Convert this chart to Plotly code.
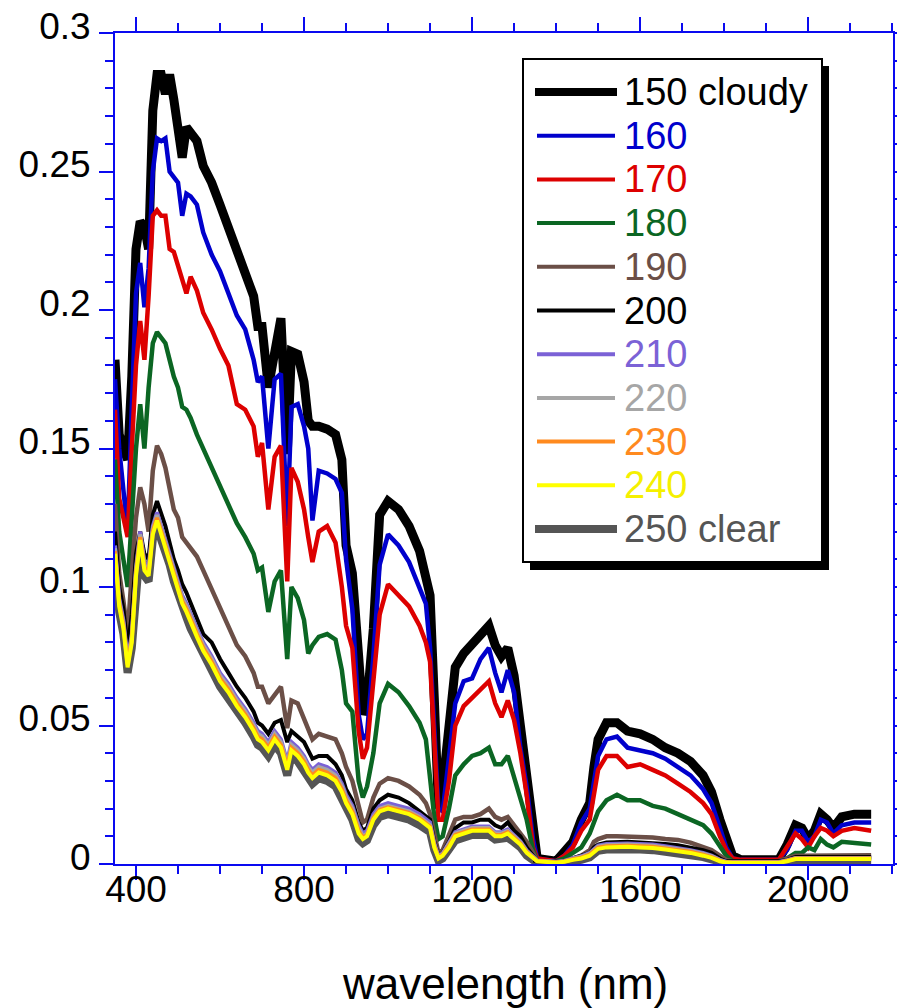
import plotly.graph_objects as go

# ---------------- data ----------------
wavelength = [
    350, 360, 370, 380, 390, 400, 410, 420, 430, 440,
    450, 460, 470, 480, 490, 500, 510, 520, 530, 545,
    560, 580, 600, 620, 640, 660, 680, 690, 700, 715,
    730, 745, 760, 770, 785, 800, 810, 820, 835, 855,
    875, 890, 900, 915, 930, 940, 950, 965, 980, 1000,
    1025, 1050, 1075, 1090, 1100, 1110, 1120, 1130, 1145, 1160,
    1180, 1200, 1220, 1240, 1255, 1270, 1285, 1300, 1315, 1330,
    1345, 1355, 1400, 1420, 1440, 1460, 1480, 1490, 1500, 1520,
    1545, 1570, 1600, 1630, 1660, 1690, 1720, 1750, 1770, 1790,
    1805, 1820, 1840, 1930, 1950, 1970, 1985, 2000, 2015, 2030,
    2045, 2060, 2080, 2110, 2150]

r150 = [
    0.182, 0.155, 0.150, 0.146, 0.176, 0.222, 0.232, 0.230, 0.222, 0.272,
    0.285, 0.285, 0.278, 0.285, 0.276, 0.266, 0.255, 0.266, 0.264, 0.261,
    0.252, 0.246, 0.238, 0.230, 0.222, 0.214, 0.205, 0.194, 0.194, 0.172,
    0.185, 0.197, 0.148, 0.185, 0.184, 0.174, 0.160, 0.158, 0.158, 0.157,
    0.155, 0.146, 0.115, 0.105, 0.075, 0.054, 0.058, 0.085, 0.126, 0.131,
    0.128, 0.122, 0.113, 0.105, 0.097, 0.060, 0.020, 0.028, 0.050, 0.071,
    0.076, 0.079, 0.083, 0.086, 0.079, 0.075, 0.078, 0.068, 0.050, 0.032,
    0.012, 0.002, 0.001, 0.005, 0.008, 0.016, 0.022, 0.035, 0.045, 0.051,
    0.051, 0.048, 0.047, 0.045, 0.042, 0.040, 0.037, 0.032, 0.026, 0.016,
    0.009, 0.003, 0.0015, 0.0015, 0.007, 0.014, 0.013, 0.009, 0.012, 0.018,
    0.016, 0.013, 0.017, 0.018, 0.018]

r160 = [
    0.175, 0.150, 0.135, 0.120, 0.165, 0.206, 0.217, 0.201, 0.215, 0.250,
    0.262, 0.261, 0.262, 0.250, 0.248, 0.246, 0.234, 0.242, 0.241, 0.238,
    0.228, 0.220, 0.214, 0.206, 0.198, 0.193, 0.182, 0.174, 0.176, 0.150,
    0.175, 0.177, 0.122, 0.165, 0.166, 0.158, 0.150, 0.124, 0.142, 0.141,
    0.139, 0.134, 0.110, 0.092, 0.054, 0.045, 0.047, 0.075, 0.108, 0.119,
    0.115, 0.109, 0.100, 0.094, 0.078, 0.050, 0.020, 0.019, 0.038, 0.058,
    0.066, 0.067, 0.074, 0.078, 0.069, 0.062, 0.070, 0.062, 0.042, 0.028,
    0.009, 0.002, 0.001, 0.003, 0.007, 0.015, 0.020, 0.030, 0.039, 0.045,
    0.046, 0.042, 0.041, 0.040, 0.038, 0.035, 0.032, 0.027, 0.022, 0.013,
    0.006, 0.002, 0.0015, 0.0015, 0.005, 0.012, 0.012, 0.008, 0.010, 0.016,
    0.015, 0.011, 0.014, 0.015, 0.015]

r170 = [
    0.164, 0.132, 0.125, 0.118, 0.150, 0.180, 0.196, 0.182, 0.205, 0.234,
    0.236, 0.234, 0.234, 0.222, 0.221, 0.216, 0.211, 0.206, 0.212, 0.207,
    0.199, 0.193, 0.186, 0.180, 0.166, 0.164, 0.158, 0.147, 0.152, 0.128,
    0.147, 0.151, 0.102, 0.143, 0.138, 0.128, 0.118, 0.109, 0.120, 0.122,
    0.116, 0.100, 0.086, 0.078, 0.048, 0.038, 0.042, 0.065, 0.090, 0.101,
    0.097, 0.093, 0.086, 0.080, 0.073, 0.045, 0.016, 0.016, 0.030, 0.050,
    0.057, 0.060, 0.063, 0.066, 0.058, 0.053, 0.059, 0.052, 0.040, 0.025,
    0.006, 0.002, 0.001, 0.003, 0.006, 0.012, 0.016, 0.026, 0.034, 0.039,
    0.039, 0.035, 0.036, 0.034, 0.032, 0.029, 0.026, 0.022, 0.018, 0.010,
    0.005, 0.002, 0.0015, 0.0015, 0.006, 0.011, 0.009, 0.006, 0.010, 0.013,
    0.012, 0.010, 0.012, 0.013, 0.012]

r180 = [
    0.146, 0.120, 0.110, 0.100, 0.125, 0.150, 0.166, 0.150, 0.172, 0.188,
    0.192, 0.190, 0.188, 0.182, 0.176, 0.172, 0.165, 0.164, 0.161, 0.155,
    0.150, 0.143, 0.137, 0.130, 0.123, 0.118, 0.112, 0.106, 0.107, 0.091,
    0.102, 0.106, 0.074, 0.100, 0.096, 0.088, 0.076, 0.079, 0.082, 0.083,
    0.081, 0.070, 0.058, 0.055, 0.030, 0.024, 0.028, 0.040, 0.058, 0.065,
    0.062, 0.057, 0.051, 0.045, 0.030, 0.017, 0.009, 0.010, 0.020, 0.032,
    0.036, 0.039, 0.040, 0.042, 0.036, 0.036, 0.039, 0.031, 0.024, 0.016,
    0.005, 0.001, 0.001, 0.002, 0.004, 0.006, 0.011, 0.015, 0.019, 0.023,
    0.025, 0.023, 0.023, 0.021, 0.020, 0.018, 0.016, 0.014, 0.011, 0.006,
    0.003, 0.001, 0.001, 0.001, 0.002, 0.004, 0.004, 0.006, 0.005, 0.009,
    0.007, 0.006, 0.008, 0.0075, 0.007]

r190 = [
    0.130, 0.105, 0.095, 0.083, 0.105, 0.125, 0.136, 0.130, 0.120, 0.142,
    0.151, 0.148, 0.143, 0.136, 0.128, 0.125, 0.118, 0.116, 0.114, 0.111,
    0.106, 0.099, 0.092, 0.086, 0.079, 0.075, 0.069, 0.064, 0.064, 0.058,
    0.061, 0.064, 0.049, 0.059, 0.058, 0.052, 0.048, 0.045, 0.047, 0.046,
    0.045, 0.040, 0.035, 0.030, 0.020, 0.015, 0.016, 0.024, 0.029, 0.031,
    0.030, 0.028, 0.025, 0.022, 0.018, 0.010, 0.004, 0.005, 0.011, 0.016,
    0.017, 0.017, 0.018, 0.020, 0.017, 0.016, 0.017, 0.014, 0.011, 0.008,
    0.004, 0.001, 0.001, 0.001, 0.002, 0.003, 0.005, 0.008, 0.009, 0.010,
    0.010, 0.010, 0.0098, 0.0096, 0.009, 0.0087, 0.0077, 0.0062, 0.005, 0.003,
    0.0015, 0.001, 0.001, 0.001, 0.002, 0.003, 0.003, 0.003, 0.003, 0.0032,
    0.0032, 0.0032, 0.0032, 0.0032, 0.0032]

r200 = [
    0.120, 0.100, 0.092, 0.078, 0.090, 0.112, 0.120, 0.112, 0.110, 0.126,
    0.131, 0.127, 0.122, 0.116, 0.110, 0.106, 0.101, 0.098, 0.094, 0.088,
    0.083, 0.080, 0.074, 0.069, 0.064, 0.060, 0.055, 0.051, 0.050, 0.047,
    0.051, 0.052, 0.044, 0.048, 0.046, 0.044, 0.041, 0.038, 0.039, 0.039,
    0.036, 0.032, 0.027, 0.023, 0.015, 0.012, 0.013, 0.020, 0.023, 0.025,
    0.024, 0.022, 0.019, 0.017, 0.016, 0.008, 0.003, 0.004, 0.008, 0.013,
    0.015, 0.015, 0.016, 0.016, 0.014, 0.013, 0.015, 0.012, 0.010, 0.006,
    0.003, 0.001, 0.001, 0.001, 0.002, 0.003, 0.004, 0.006, 0.007, 0.0078,
    0.008, 0.008, 0.0078, 0.0076, 0.0072, 0.0068, 0.006, 0.005, 0.004, 0.002,
    0.001, 0.001, 0.001, 0.001, 0.0015, 0.0025, 0.0025, 0.0025, 0.0025, 0.0025,
    0.0025, 0.0025, 0.0025, 0.0025, 0.0025]

r210 = [
    0.115, 0.096, 0.088, 0.074, 0.083, 0.107, 0.120, 0.109, 0.107, 0.122,
    0.127, 0.122, 0.118, 0.113, 0.107, 0.102, 0.097, 0.094, 0.090, 0.085,
    0.080, 0.075, 0.069, 0.065, 0.060, 0.056, 0.051, 0.048, 0.047, 0.044,
    0.048, 0.045, 0.037, 0.044, 0.042, 0.039, 0.036, 0.034, 0.036, 0.035,
    0.033, 0.029, 0.025, 0.021, 0.014, 0.011, 0.012, 0.018, 0.021, 0.022,
    0.021, 0.020, 0.018, 0.016, 0.015, 0.0075, 0.0029, 0.0039, 0.0075, 0.0115,
    0.0125, 0.0135, 0.0135, 0.0135, 0.0115, 0.0115, 0.0125, 0.0105, 0.0082, 0.0049,
    0.0026, 0.0013, 0.0008, 0.0011, 0.0021, 0.0028, 0.004, 0.0055, 0.0066, 0.0072,
    0.0074, 0.0074, 0.0072, 0.007, 0.0064, 0.0058, 0.005, 0.004, 0.003, 0.0015,
    0.0008, 0.0007, 0.0007, 0.0007, 0.0014, 0.0022, 0.0022, 0.0022, 0.0022, 0.0022,
    0.0022, 0.0022, 0.0022, 0.0022, 0.0022]

r220 = [
    0.114, 0.095, 0.087, 0.073, 0.082, 0.106, 0.119, 0.108, 0.106, 0.121,
    0.126, 0.121, 0.117, 0.112, 0.106, 0.101, 0.096, 0.093, 0.089, 0.084,
    0.079, 0.074, 0.068, 0.064, 0.059, 0.055, 0.050, 0.047, 0.046, 0.043,
    0.047, 0.044, 0.036, 0.043, 0.041, 0.038, 0.035, 0.033, 0.035, 0.034,
    0.032, 0.028, 0.024, 0.020, 0.013, 0.010, 0.011, 0.017, 0.020, 0.021,
    0.020, 0.019, 0.017, 0.015, 0.014, 0.007, 0.0026, 0.0036, 0.007, 0.011,
    0.012, 0.013, 0.013, 0.013, 0.011, 0.011, 0.012, 0.010, 0.0078, 0.0046,
    0.0024, 0.0012, 0.0007, 0.001, 0.0019, 0.0026, 0.0037, 0.0052, 0.0063, 0.0068,
    0.007, 0.007, 0.0068, 0.0066, 0.006, 0.0055, 0.0047, 0.0037, 0.0028, 0.0014,
    0.0007, 0.0006, 0.0006, 0.0006, 0.0013, 0.0021, 0.0021, 0.0021, 0.0021, 0.0021,
    0.0021, 0.0021, 0.0021, 0.0021, 0.0021]

r230 = [
    0.113, 0.094, 0.086, 0.072, 0.081, 0.105, 0.118, 0.107, 0.105, 0.120,
    0.125, 0.120, 0.116, 0.111, 0.105, 0.100, 0.095, 0.092, 0.088, 0.083,
    0.078, 0.073, 0.067, 0.063, 0.058, 0.054, 0.049, 0.046, 0.045, 0.042,
    0.046, 0.043, 0.035, 0.042, 0.040, 0.037, 0.034, 0.032, 0.034, 0.033,
    0.031, 0.027, 0.023, 0.019, 0.012, 0.0095, 0.0105, 0.0165, 0.0195, 0.0205,
    0.0195, 0.0185, 0.0165, 0.0145, 0.0135, 0.0065, 0.0023, 0.0033, 0.0065, 0.0105,
    0.0115, 0.0125, 0.0125, 0.0125, 0.0105, 0.0105, 0.0115, 0.0095, 0.0074, 0.0043,
    0.0022, 0.0011, 0.0006, 0.0009, 0.0017, 0.0023, 0.0034, 0.0049, 0.0059, 0.0064,
    0.0066, 0.0066, 0.0064, 0.0062, 0.0056, 0.0051, 0.0044, 0.0034, 0.0025, 0.0012,
    0.0006, 0.0005, 0.0005, 0.0005, 0.0012, 0.002, 0.002, 0.002, 0.002, 0.002,
    0.002, 0.002, 0.002, 0.002, 0.002]

r240 = [
    0.112, 0.093, 0.085, 0.071, 0.080, 0.104, 0.117, 0.106, 0.104, 0.119,
    0.124, 0.119, 0.115, 0.110, 0.104, 0.099, 0.094, 0.091, 0.087, 0.082,
    0.077, 0.072, 0.066, 0.062, 0.057, 0.053, 0.048, 0.045, 0.044, 0.041,
    0.045, 0.042, 0.034, 0.041, 0.039, 0.036, 0.033, 0.031, 0.033, 0.032,
    0.030, 0.026, 0.022, 0.018, 0.011, 0.009, 0.010, 0.016, 0.019, 0.020,
    0.019, 0.018, 0.016, 0.014, 0.013, 0.006, 0.002, 0.003, 0.006, 0.010,
    0.011, 0.012, 0.012, 0.012, 0.010, 0.010, 0.011, 0.009, 0.007, 0.004,
    0.002, 0.001, 0.0005, 0.0008, 0.0015, 0.002, 0.003, 0.0045, 0.0055, 0.006,
    0.0062, 0.0062, 0.006, 0.0058, 0.0052, 0.0047, 0.004, 0.003, 0.0022, 0.001,
    0.0005, 0.0004, 0.0004, 0.0004, 0.001, 0.0018, 0.0018, 0.0018, 0.0018, 0.0018,
    0.0018, 0.0018, 0.0018, 0.0018, 0.0018]

r250 = [
    0.110, 0.091, 0.083, 0.069, 0.078, 0.102, 0.115, 0.104, 0.102, 0.117,
    0.122, 0.117, 0.113, 0.108, 0.102, 0.097, 0.092, 0.089, 0.085, 0.080,
    0.075, 0.070, 0.064, 0.060, 0.055, 0.051, 0.046, 0.043, 0.042, 0.039,
    0.043, 0.040, 0.032, 0.039, 0.037, 0.034, 0.031, 0.029, 0.031, 0.030,
    0.028, 0.024, 0.020, 0.016, 0.009, 0.0075, 0.0085, 0.014, 0.017, 0.018,
    0.017, 0.016, 0.014, 0.0125, 0.0115, 0.005, 0.0012, 0.002, 0.005, 0.0085,
    0.0095, 0.0105, 0.0105, 0.0105, 0.0088, 0.0088, 0.0095, 0.0078, 0.006, 0.003,
    0.0012, 0.0004, 0.0002, 0.0004, 0.001, 0.0015, 0.0024, 0.0038, 0.0048, 0.0052,
    0.0054, 0.0054, 0.0052, 0.005, 0.0045, 0.004, 0.0034, 0.0025, 0.0017, 0.0006,
    0.0002, 0.0002, 0.0002, 0.0002, 0.0006, 0.0012, 0.0012, 0.0012, 0.0012, 0.0012,
    0.0012, 0.0012, 0.0012, 0.0012, 0.0012]

labels = ["150 cloudy", "160", "170", "180", "190", "200",
          "210", "220", "230", "240", "250 clear"]
values = [r150, r160, r170, r180, r190, r200, r210, r220, r230, r240, r250]

x_ticks = [400, 800, 1200, 1600, 2000]
y_ticks = [0, 0.05, 0.1, 0.15, 0.2, 0.25, 0.3]
x_title = "wavelength (nm)"

# ---------------- styling ----------------
colors = ["#000000", "#0000cc", "#dd0000", "#0b6623", "#6b4f47", "#000000",
          "#7b62d6", "#a6a6a6", "#ff8a1f", "#ffff00", "#555555"]
text_colors = ["#000000", "#0000cc", "#dd0000", "#0b6623", "#6b4f47", "#000000",
               "#7b62d6", "#a6a6a6", "#ff8a1f", "#f5f000", "#555555"]
widths = [9, 4.5, 4.5, 4.5, 4.5, 4, 4, 4, 4, 4, 8]
draw_order = [10, 0, 1, 2, 3, 4, 5, 6, 7, 8, 9]

AX = "#0a0af0"
FONT = "Liberation Sans, Arial, Helvetica, sans-serif"

W, H = 897, 1008
L, R, T, B = 115, 893, 33, 864


def px(x):
    return (x - L) / (R - L)


def py(y):
    return (B - y) / (B - T)


for v in values:
    if len(v) != len(wavelength):
        raise ValueError("length mismatch")

fig = go.Figure()
for i in draw_order:
    fig.add_trace(go.Scatter(
        x=wavelength, y=values[i], mode="lines", name=labels[i],
        line=dict(color=colors[i], width=widths[i]),
        showlegend=False, hoverinfo="skip"))

fig.update_layout(
    width=W, height=H,
    margin=dict(l=L, r=W - R, t=T, b=H - B, pad=0, autoexpand=False),
    paper_bgcolor="white", plot_bgcolor="white",
    font=dict(family=FONT, color="black"),
    showlegend=False,
)

fig.update_xaxes(
    range=[350, 2202], tickmode="array", tickvals=x_ticks,
    ticktext=[str(t) for t in x_ticks], automargin=False,
    ticks="outside", ticklen=14, tickwidth=2, tickcolor=AX,
    showline=True, linecolor=AX, linewidth=2, mirror="allticks",
    showgrid=False, zeroline=False,
    minor=dict(dtick=100, tick0=0, ticks="outside", ticklen=8,
               tickwidth=2, tickcolor=AX, showgrid=False),
    tickfont=dict(size=37, family=FONT, color="black"),
    ticklabelstandoff=-22,
)
fig.update_yaxes(
    range=[0, 0.3], tickmode="array", tickvals=y_ticks,
    ticktext=["0", "0.05", "0.1", "0.15", "0.2", "0.25", "0.3"],
    automargin=False,
    ticks="outside", ticklen=14, tickwidth=2, tickcolor=AX,
    showline=True, linecolor=AX, linewidth=2, mirror="allticks",
    showgrid=False, zeroline=False,
    minor=dict(dtick=0.01, tick0=0, ticks="outside", ticklen=8,
               tickwidth=2, tickcolor=AX, showgrid=False),
    tickfont=dict(size=37, family=FONT, color="black"),
    ticklabelshift=-7, ticklabelstandoff=1,
)

# axis title
fig.add_annotation(text=x_title, xref="paper", yref="paper",
                   x=px(505), y=py(983), xanchor="center", yanchor="middle",
                   showarrow=False, font=dict(size=44, family=FONT, color="black"))

# ---------------- legend (drawn by hand) ----------------
shapes = []
shapes.append(dict(type="rect", xref="paper", yref="paper",
                   x0=px(530), x1=px(829), y0=py(570), y1=py(66),
                   fillcolor="black", line=dict(width=0), layer="above"))
shapes.append(dict(type="rect", xref="paper", yref="paper",
                   x0=px(523), x1=px(822), y0=py(562), y1=py(59),
                   fillcolor="white", line=dict(color="black", width=2), layer="above"))
row0, dy = 92, 43.7
for k, lab in enumerate(labels):
    yc = row0 + k * dy
    thick = widths[k] > 5
    shapes.append(dict(type="line", xref="paper", yref="paper",
                       x0=px(535 if thick else 537), x1=px(617 if thick else 615),
                       y0=py(yc), y1=py(yc),
                       line=dict(color=colors[k], width=8 if thick else 4),
                       layer="above"))
    fig.add_annotation(text=lab, xref="paper", yref="paper",
                       x=px(622), y=py(yc), xanchor="left", yanchor="middle",
                       showarrow=False,
                       font=dict(size=38, family=FONT, color=text_colors[k]))
fig.update_layout(shapes=shapes)

fig.write_html("out.html")
